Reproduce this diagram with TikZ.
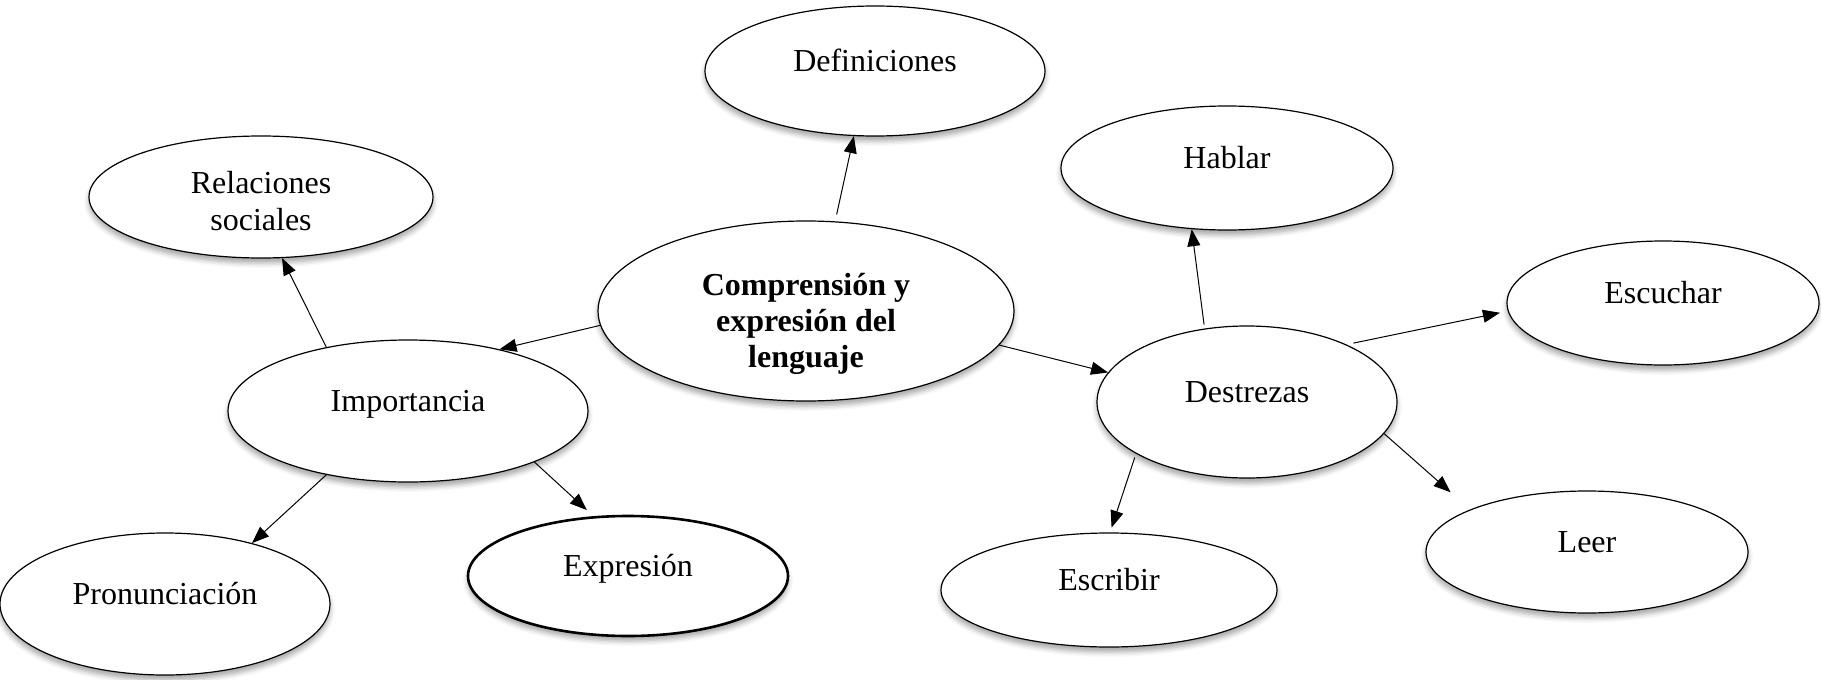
\documentclass[tikz,border=0pt]{standalone}
\usepackage{fontspec}
\setmainfont{Liberation Serif}
\usepackage{tikz}
\usetikzlibrary{shapes.geometric,arrows.meta,shadows.blur}

\tikzset{
	bubble/.style={ellipse, draw, line width=0.6pt, fill=white, inner sep=0pt, blur shadow={shadow xshift=0pt, shadow yshift=-2.5pt, shadow blur radius=2.5pt, shadow opacity=35}, font=\fontsize{16}{18.5}\selectfont, text height=12pt, text depth=12pt},
	arr/.style={line width=0.5pt, -{Triangle[length=8.5pt, width=6.5pt]}}
}

\begin{document}
\begin{tikzpicture}[x=0.5pt, y=-0.5pt]

\useasboundingbox (0,0) rectangle (1821,680);

\node[bubble, minimum width=170pt, minimum height=65pt] (def) at (875,71) {Definiciones};
\node[bubble, minimum width=172pt, minimum height=61pt, align=center, text height=34pt, text depth=1pt] (rel) at (261,197) {Relaciones\\sociales};
\node[bubble, minimum width=166pt, minimum height=62pt] (hab) at (1227,168) {Hablar};
\node[bubble, minimum width=208pt, minimum height=90pt, align=center, text height=57pt, text depth=1pt, font=\fontsize{16}{18}\selectfont\bfseries] (comp) at (806,311) {Comprensión y\\expresión del\\lenguaje};
\node[bubble, minimum width=156pt, minimum height=62pt] (esc) at (1663,303) {Escuchar};
\node[bubble, minimum width=180pt, minimum height=71pt] (imp) at (408,411) {Importancia};
\node[bubble, minimum width=150pt, minimum height=76pt] (des) at (1247,402) {Destrezas};
\node[bubble, minimum width=161pt, minimum height=61pt] (leer) at (1587,552) {Leer};
\node[bubble, minimum width=168pt, minimum height=57pt] (escr) at (1109,590) {Escribir};
\node[bubble, minimum width=160pt, minimum height=60pt, line width=1.3pt] (exp) at (628,576) {Expresión};
\node[bubble, minimum width=165pt, minimum height=71pt] (pro) at (165,604) {Pronunciación};

\draw[arr, shorten <=3.5pt] (comp.72) -- (def.252);
\draw[arr] (comp.184) -- (imp.34);
\draw[arr] (comp.350) -- (des.168);
\draw[arr] (imp.142) -- (rel.289);
\draw[arr] (imp.218) -- (pro.35);
\draw[arr, shorten >=4.5pt] (imp.338) -- (exp.120);
\draw[arr, shorten <=2pt] (des.120) -- (hab.240);
\draw[arr, shorten <=3.5pt, shorten >=4pt] (des.30) -- (esc.183.5);
\draw[arr, shorten >=13pt] (des.347) -- (leer.160);
\draw[arr, shorten <=2pt, shorten >=2.5pt] (des.205) -- (escr.89);

\end{tikzpicture}
\end{document}
